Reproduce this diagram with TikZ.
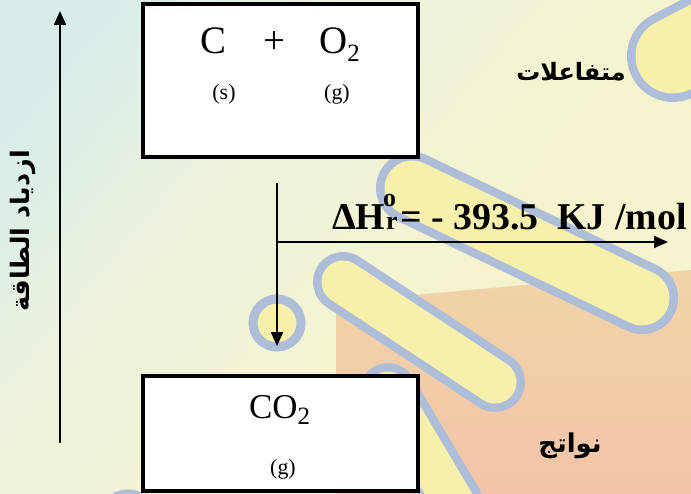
\documentclass[tikz,border=0pt]{standalone}
\usepackage{fontspec}
\setmainfont{Liberation Serif}
\newfontfamily\arabicfont[Script=Arabic]{DejaVu Sans}
\TeXXeTstate=1
\usetikzlibrary{arrows.meta}
\definecolor{bgBlue}{HTML}{D8EDEB}
\definecolor{bgPale}{HTML}{EEF3DD}
\definecolor{bgYellow}{HTML}{F6F4CE}
\definecolor{bgOrange}{HTML}{F0D4A8}
\definecolor{bgSalmon}{HTML}{F3C4A8}
\definecolor{capYellow}{HTML}{F7EFAC}
\definecolor{capBlue}{HTML}{AEBED9}
\pgfdeclarehorizontalshading{bgsh}{100bp}{color(0bp)=(bgBlue); color(22bp)=(bgBlue); color(38bp)=(bgPale); color(60bp)=(bgYellow); color(100bp)=(bgYellow)}
\newcommand\mycapsule[3]{%
  \draw[capBlue,line width=#3bp,line cap=round] #1 -- #2;
  \draw[capYellow,line width=#3bp-17bp,line cap=round] #1 -- #2;}
\tikzset{
  box/.style={draw=black,line width=4bp,fill=white,minimum width=275bp,inner sep=0pt},
  conn/.style={line width=2bp,draw=black},
  tip/.style={-{Triangle[length=14bp,width=12bp]}},
  chem/.style={font=\fontsize{39}{39}\selectfont,inner sep=0pt,anchor=base},
  state/.style={font=\fontsize{22}{22}\selectfont,inner sep=0pt,anchor=base},
  dhfont/.style={font=\bfseries\fontsize{38}{38}\selectfont,inner sep=0pt},
  dhsmall/.style={font=\bfseries\fontsize{26}{26}\selectfont,inner sep=0pt},
  arlabel/.style={font=\arabicfont\bfseries\fontsize{24}{24}\selectfont,inner sep=0pt}
}
\begin{document}
\begin{tikzpicture}[x=1bp,y=-1bp]
\useasboundingbox (0,0) rectangle (691,494);
% background
\shade[shading=bgsh,shading angle=-40] (0,0) rectangle (691,494);
\shade[top color=bgOrange,bottom color=bgSalmon] (336,302) -- (691,270) -- (691,494) -- (336,494) -- cycle;
\mycapsule{(412,188)}{(642,298)}{72}
\mycapsule{(343,282)}{(495,382)}{60}
\mycapsule{(388,392)}{(470,530)}{58}
\mycapsule{(673,56)}{(780,0)}{92}
\draw[capBlue,line width=9bp,fill=capYellow] (277,323) circle[radius=24bp];
\draw[capBlue,line width=9bp,fill=capYellow] (128,522) circle[radius=28bp];
% boxes
\node[box,minimum height=153bp] (react) at (280.5,80.5) {};
\node[box,minimum height=115bp] (prod) at (280.5,433.5) {};
% reactant texts
\node[chem] (c) at (213,54) {C};
\node[chem] (plus) at (274,54) {+};
\node[chem,anchor=base west] (o2) at (319,54) {O\raisebox{-0.2em}{\fontsize{25}{25}\selectfont 2}};
\node[state] (s1) at (224,100) {(s)};
\node[state] (g1) at (337,100) {(g)};
% product texts
\node[chem,anchor=base west,font=\fontsize{35}{35}\selectfont] (co2) at (249,418) {CO\raisebox{-0.2em}{\fontsize{25}{25}\selectfont 2}};
\node[state] (g2) at (283,474) {(g)};
% connectors
\coordinate (vtop) at (277,183);
\coordinate (vbot) at (277,346);
\coordinate (hstart) at (277,242);
\coordinate (hend) at (668,242);
\coordinate (ebot) at (60,443);
\coordinate (etop) at (60,11);
\draw[conn,tip] (vtop) -- (vbot);
\draw[conn,tip] (hstart) -- (hend);
\draw[conn,tip] (ebot) -- (etop);
% enthalpy label
\node[dhfont,anchor=base west] (dh) at (332,230) {ΔH};
\node[dhsmall,anchor=base west] (dho) at (383,207) {o};
\node[dhsmall,anchor=base west] (dhr) at (386,230) {r};
\node[dhfont,anchor=base west] (dhval) at (400,230) {= - 393.5\ \ KJ /mol};
% arabic labels
\node[arlabel] (reac) at (571,72) {\beginR متفاعلات\endR};
\node[arlabel,font=\arabicfont\bfseries\fontsize{26}{26}\selectfont] (prodl) at (570,446) {\beginR نواتج\endR};
\node[arlabel,rotate=90,font=\arabicfont\bfseries\fontsize{25.5}{25.5}\selectfont] (energy) at (23,231) {\beginR ازدياد الطاقة\endR};
\end{tikzpicture}
\end{document}
